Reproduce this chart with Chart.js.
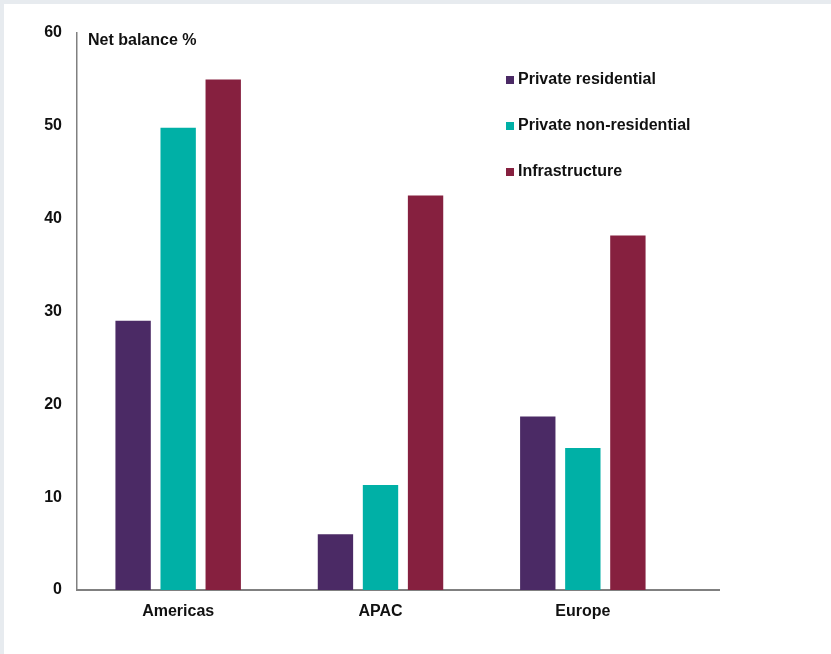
<!DOCTYPE html>
<html>
<head>
<meta charset="utf-8">
<script src="https://cdn.jsdelivr.net/npm/chart.js@4.4.1/dist/chart.umd.min.js"></script>
<style>
  html, body { margin: 0; padding: 0; background: #fff; }
  #wrap { width: 831px; height: 654px; position: relative; }
  canvas { display: block; }
</style>
</head>
<body>
<div id="wrap"><canvas id="chart" width="831" height="654"></canvas></div>
<script>
const categories = ['Americas', 'APAC', 'Europe'];
const privateResidential = [29, 6, 18.7];
const privateNonResidential = [49.8, 11.3, 15.3];
const infrastructure = [55, 42.5, 38.2];
const yTicks = [0, 10, 20, 30, 40, 50, 60];

const FONT = '"Liberation Sans", Arial, sans-serif';

// grey frame on top/left, title, custom legend, x axis extension
const decor = {
  id: 'decor',
  beforeDraw(chart) {
    const ctx = chart.ctx;
    ctx.save();
    ctx.fillStyle = '#e7ebef';
    ctx.fillRect(0, 0, chart.width, 4);
    ctx.fillRect(0, 0, 4, chart.height);
    ctx.restore();
  },
  afterDraw(chart) {
    const ctx = chart.ctx;
    const area = chart.chartArea;
    ctx.save();
    // axis line runs past the last category
    ctx.strokeStyle = '#808080';
    ctx.lineWidth = 2;
    ctx.beginPath();
    ctx.moveTo(area.right - 1, area.bottom);
    ctx.lineTo(720, area.bottom);
    ctx.stroke();

    ctx.fillStyle = '#111';
    ctx.font = 'bold 16px ' + FONT;
    ctx.textBaseline = 'middle';
    ctx.textAlign = 'left';
    ctx.fillText('Net balance %', 88, 41);

    chart.data.datasets.forEach((ds, i) => {
      const y = 80 + i * 46;
      ctx.fillStyle = ds.backgroundColor;
      ctx.fillRect(506, y - 4, 8, 8);
      ctx.fillStyle = '#111';
      ctx.fillText(ds.label, 518, y);
    });
    ctx.restore();
  }
};

new Chart(document.getElementById('chart'), {
  type: 'bar',
  data: {
    labels: categories,
    datasets: [
      { label: 'Private residential', data: privateResidential, backgroundColor: '#4b2a65' },
      { label: 'Private non-residential', data: privateNonResidential, backgroundColor: '#00b0a6' },
      { label: 'Infrastructure', data: infrastructure, backgroundColor: '#86203f' }
    ]
  },
  options: {
    responsive: false,
    animation: false,
    categoryPercentage: 0.668,
    barPercentage: 0.785,
    layout: { padding: { top: 33, right: 147, bottom: 0, left: 0 } },
    plugins: {
      legend: { display: false },
      tooltip: { enabled: false }
    },
    scales: {
      x: {
        grid: { display: false, drawTicks: false },
        border: { display: true, color: '#808080', width: 2 },
        ticks: { color: '#111', font: { family: FONT, size: 16, weight: 'bold' }, padding: 12 },
        afterFit(scale) { scale.height = 64; }
      },
      y: {
        min: 0,
        max: 60,
        grid: { display: false, drawTicks: false },
        border: { display: true, color: '#808080', width: 1.5 },
        afterBuildTicks(scale) { scale.ticks = yTicks.map(v => ({ value: v })); },
        ticks: { color: '#111', font: { family: FONT, size: 16, weight: 'bold' }, padding: 15 },
        afterFit(scale) { scale.width = 77; }
      }
    }
  },
  plugins: [decor]
});
</script>
</body>
</html>
